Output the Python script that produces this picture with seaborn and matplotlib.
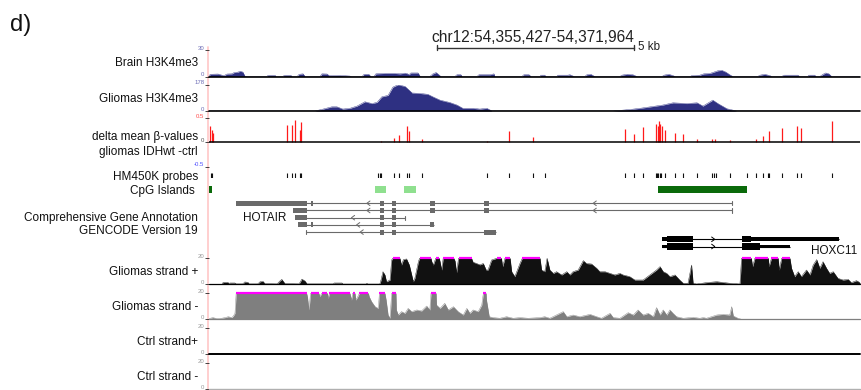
import numpy as np
import matplotlib
matplotlib.use("Agg")
import matplotlib.pyplot as plt
from matplotlib.lines import Line2D
import seaborn as sns

sns.set_theme(style="white")
plt.rcParams["font.family"] = ["Liberation Sans", "DejaVu Sans"]

# ------------------------------------------------------------------
# DATA  (all positions in kb from the window start chr12:54,355,427)
# ------------------------------------------------------------------
PANEL = "d)"
REGION = "chr12:54,355,427-54,371,964"
WINDOW_KB = 16.54
SCALE_KB = 5
SCALE_START_KB = 5.79

track_labels = ["Brain H3K4me3", "Gliomas H3K4me3", "delta mean \u03b2-values",
                "gliomas IDHwt -ctrl", "HM450K probes", "CpG Islands",
                "Comprehensive Gene Annotation", "GENCODE Version 19",
                "Gliomas strand +", "Gliomas strand -", "Ctrl strand+", "Ctrl strand -"]

brain_max = 30
brain_pos = [0.00, 0.03, 0.23, 0.33, 0.38, 0.46, 0.58, 0.64, 0.74, 0.79, 0.86, 0.91, 0.97,
             1.47, 1.50, 1.68, 1.70, 1.88, 1.91, 2.08, 2.11, 2.24, 2.29, 2.39, 2.44,
             2.82, 2.87, 3.00, 3.05, 3.33, 3.58, 3.61, 3.89, 3.94, 4.06, 4.11,
             4.19, 4.24, 4.47, 4.72, 4.85, 4.98, 5.05, 5.08, 5.13, 5.31, 5.36, 5.38,
             5.61, 5.69, 5.77, 5.84, 5.89, 6.25, 6.30, 6.40, 6.43,
             6.81, 6.86, 7.14, 7.24, 7.26, 7.95, 8.00, 8.13, 8.18, 8.41, 8.43, 8.53, 8.56,
             8.84, 8.86, 9.12, 9.17, 9.25, 9.27, 9.55, 9.60, 9.70, 9.80,
             10.44, 10.49, 10.62, 10.77, 10.87, 11.51, 11.56, 11.68, 11.79, 11.84,
             12.22, 12.27, 12.47, 12.57, 12.73, 12.83, 12.93, 13.03, 13.13, 13.23, 13.31,
             13.94, 14.00, 14.12, 14.25, 14.30, 14.55, 14.61, 14.96, 15.01,
             15.21, 15.24, 15.39, 15.42, 15.52, 15.60, 15.67, 15.75, 15.82, 16.54]
brain_val = [0, 2.5, 2.8, 1.5, 1.0, 2.8, 3.0, 4.5, 5.0, 6.0, 5.0, 0.5, 0,
             0, 1.3, 1.3, 0, 0, 1.3, 1.3, 0, 0, 2.5, 3.0, 0,
             0, 3.0, 2.8, 1.0, 1.2, 0.5, 0, 0, 2.5, 2.5, 0,
             0, 3.0, 3.5, 3.5, 3.0, 3.8, 3.0, 2.0, 4.0, 4.0, 0.5, 0,
             0, 3.0, 4.5, 2.0, 0, 0, 2.0, 2.0, 0,
             0, 2.0, 2.0, 3.0, 0, 0, 2.0, 2.0, 0, 0, 1.5, 1.5, 0,
             0, 1.5, 1.5, 2.0, 0.5, 0, 0, 2.0, 2.5, 0,
             0, 1.5, 2.5, 2.0, 0, 0, 1.5, 2.5, 1.0, 0,
             0, 1.0, 1.5, 3.0, 3.5, 5.0, 6.5, 7.0, 5.0, 2.0, 0,
             0, 1.5, 2.5, 1.0, 0, 0, 1.5, 1.5, 0,
             0, 1.5, 1.5, 0, 0, 2.5, 4.0, 3.0, 0, 0]

glioma_h3_max = 178
glioma_h3_pos = [0.00, 2.69, 2.90, 3.12, 3.25, 3.40, 3.58, 3.76, 3.96, 4.14, 4.27, 4.39, 4.55,
                 4.67, 4.80, 4.98, 5.16, 5.36, 5.56, 5.69, 5.87, 6.12, 6.30, 6.45, 6.71,
                 6.88, 7.06, 7.19, 10.26, 10.69, 10.95, 11.53, 11.79, 12.14, 12.40, 12.55,
                 12.80, 12.93, 13.16, 13.41, 16.54]
glioma_h3_val = [0, 0, 13, 28, 28, 13, 18, 33, 62, 50, 58, 95, 105,
                 160, 176, 165, 121, 118, 112, 95, 73, 57, 40, 18, 18,
                 13, 18, 0, 0, 10, 18, 40, 55, 50, 55, 33,
                 73, 50, 15, 0, 0]

delta_pos = [0.03, 0.07, 0.11, 1.99, 2.11, 2.18, 2.31, 2.34, 4.37, 4.71, 4.83, 5.04, 5.08,
             5.42, 7.07, 7.63, 8.22, 10.57, 10.80, 11.02, 11.35, 11.40, 11.44, 11.46, 11.50,
             11.58, 11.83, 12.04, 12.40, 12.79, 12.86, 13.23, 13.91, 14.08, 14.22, 14.56,
             14.93, 15.05, 15.84]
delta_val = [0.33, 0.25, 0.19, 0.35, 0.36, 0.45, 0.25, 0.41, 0.03, 0.08, 0.15, 0.33, 0.23,
             0.07, 0.03, 0.23, 0.11, 0.28, 0.17, 0.31, 0.38, 0.33, 0.43, 0.37, 0.33,
             0.25, 0.19, 0.17, 0.06, 0.06, 0.06, 0.05, 0.06, 0.13, 0.23, 0.30,
             0.33, 0.30, 0.43]

probe_pos = [0.04, 0.08, 1.99, 2.11, 2.18, 2.31, 2.34, 4.30, 4.34, 4.37, 4.71, 4.83, 5.04,
             5.08, 5.42, 7.07, 7.63, 8.22, 8.53, 10.57, 10.80, 11.02, 11.35, 11.39, 11.42,
             11.46, 11.49, 11.58, 11.83, 12.04, 12.40, 12.79, 12.83, 12.87, 13.23, 13.67,
             13.91, 14.08, 14.20, 14.22, 14.56, 14.93, 15.05, 15.84]

cpg_start = [0.01, 4.23, 4.95, 11.40]
cpg_end = [0.08, 4.50, 5.25, 13.68]
cpg_shade = ["dark", "light", "light", "dark"]

# HOTAIR transcripts (minus strand), rows 0-4
hotair_row = [0, 1, 2, 3, 4]
hotair_tx_start = [0.69, 2.13, 2.18, 2.27, 2.46]
hotair_tx_end = [13.28, 13.28, 4.98, 5.72, 7.29]
hotair_exon_start = [[0.69, 2.58, 4.34, 4.64, 5.61, 6.99],
                     [2.13, 4.34, 4.64, 5.61, 6.99],
                     [2.18, 4.34, 4.64],
                     [2.27, 2.58, 4.34, 4.64, 5.61],
                     [4.34, 4.64, 6.99]]
hotair_exon_end = [[2.48, 2.65, 4.45, 4.74, 5.74, 7.12],
                   [2.48, 4.45, 4.74, 5.74, 7.12],
                   [2.48, 4.45, 4.74],
                   [2.48, 2.65, 4.45, 4.74, 5.72],
                   [4.45, 4.74, 7.29]]
hotair_arrows = [[4.01, 9.76], [4.01, 9.76], [3.62], [3.75], [3.84]]
HOTAIR_LABEL_KB = 0.86

# HOXC11 transcripts (plus strand), rows 5-6
hoxc11_row = [5, 6]
hoxc11_tx_start = [11.50, 11.50]
hoxc11_tx_end = [16.01, 14.76]
hoxc11_cds_start = [[11.63, 13.53], [11.63, 13.53]]
hoxc11_cds_end = [[12.30, 13.78], [12.30, 14.00]]
hoxc11_utr_start = [[11.50, 13.78], [11.50, 14.00]]
hoxc11_utr_end = [[11.63, 16.01], [11.63, 14.76]]
hoxc11_arrows = [[12.85], [12.85]]
HOXC11_LABEL_KB = 15.29

strand_max = 20
plus_pos = [0.00, 0.33, 0.36, 0.48, 0.51, 0.53, 0.66, 0.69, 0.86, 0.91,
            0.99, 1.02, 1.24, 1.30, 1.37, 1.42, 1.73, 1.80, 1.85, 1.93,
            2.29, 2.36, 2.44, 2.49, 3.15, 3.18, 3.38, 3.40, 3.99, 4.01,
            4.04, 4.34, 4.37, 4.42, 4.47, 4.51, 4.60, 4.64, 4.67, 4.85,
            4.89, 4.94, 5.02, 5.09, 5.15, 5.19, 5.23, 5.32, 5.35, 5.64,
            5.66, 5.70, 5.76, 5.85, 5.87, 5.91, 5.95, 6.22, 6.25, 6.29,
            6.34, 6.67, 6.71, 6.80, 6.88, 6.97, 7.04, 7.09, 7.18, 7.31,
            7.43, 7.46, 7.52, 7.65, 7.69, 7.77, 7.90, 7.96, 8.41, 8.45,
            8.53, 8.59, 8.66, 8.75, 8.83, 8.96, 9.09, 9.17, 9.25, 9.38,
            9.51, 9.59, 9.72, 9.85, 9.93, 10.06, 10.19, 10.31, 10.44, 10.52,
            10.69, 10.82, 11.03, 11.20, 11.37, 11.46, 11.54, 11.63, 11.71, 11.84,
            11.96, 12.05, 12.17, 12.26, 12.30, 12.39, 12.64, 12.90, 13.23, 13.49,
            13.53, 13.78, 13.81, 13.87, 14.21, 14.23, 14.29, 14.46, 14.49, 14.55,
            14.76, 14.80, 14.88, 14.97, 15.05, 15.18, 15.27, 15.35, 15.44, 15.52,
            15.60, 15.69, 15.77, 15.86, 15.98, 16.11, 16.24, 16.32, 16.45, 16.54]
plus_val = [0, 0, 1.5, 1.5, 0.5, 1.0, 1.0, 0.3, 0.3, 1.8,
            1.5, 0.3, 0.3, 2.0, 2.3, 0.5, 0.3, 2.5, 3.8, 0.5,
            0.3, 4.0, 2.5, 0.3, 0.3, 1.0, 1.0, 0.2, 0.2, 0.8,
            0.2, 0.2, 3.3, 9.7, 7.2, 2.0, 3.3, 18.7, 25, 25,
            14.8, 19, 19.5, 14.8, 7.2, 2.0, 4.6, 17.4, 25, 25,
            17.4, 14.8, 25, 25, 17.4, 11, 25, 25, 18, 9,
            25, 25, 17, 16, 15, 16, 11, 11, 18.7, 25,
            25, 13.6, 25, 25, 9.7, 5.9, 16, 25, 25, 11,
            9.7, 20, 11, 8.4, 9.7, 7.2, 9.7, 7.2, 9.7, 11,
            18.2, 16, 15.6, 12.3, 9.7, 9.7, 8.4, 7.2, 8.4, 7.2,
            5.9, 3.3, 3.3, 7.2, 11, 13.6, 9.7, 8.4, 5.9, 7.2,
            3.3, 0.8, 0.8, 14.8, 0.8, 0.2, 1.3, 2.0, 0.8, 0.2,
            25, 25, 13.6, 25, 25, 13.6, 25, 25, 11, 25,
            25, 12.3, 5.9, 9.7, 5.9, 11, 7.2, 14.8, 19, 12.3,
            17.4, 12.3, 8.4, 9.7, 4.6, 3.3, 3.8, 1.3, 2.8, 1.3]

minus_pos = [0.00, 0.03, 0.10, 0.20, 0.32, 0.41, 0.49, 0.58, 0.62, 0.66,
             0.69, 2.48, 2.50, 2.54, 2.58, 2.79, 2.82, 2.86, 3.01, 3.03,
             3.06, 3.58, 3.62, 3.65, 3.71, 3.73, 3.78, 3.82, 4.05, 4.07,
             4.13, 4.22, 4.30, 4.33, 4.47, 4.50, 4.55, 4.60, 4.64, 4.75,
             4.76, 4.81, 4.89, 4.98, 5.06, 5.15, 5.28, 5.40, 5.53, 5.61,
             5.64, 5.77, 5.78, 5.87, 5.99, 6.08, 6.21, 6.33, 6.46, 6.55,
             6.63, 6.71, 6.84, 6.93, 6.97, 7.04, 7.05, 7.12, 7.22, 7.39,
             7.56, 7.73, 7.90, 8.11, 8.41, 8.53, 8.66, 9.00, 9.09, 9.25,
             9.42, 9.68, 9.85, 9.97, 10.19, 10.27, 10.44, 10.65, 10.78, 10.90,
             11.03, 11.16, 11.29, 11.37, 11.46, 11.54, 11.63, 11.71, 11.79, 11.88,
             12.05, 12.30, 12.47, 12.56, 12.64, 12.90, 13.06, 13.23, 13.28, 13.32,
             13.44, 13.53, 16.54]
minus_val = [0.5, 0.8, 1.3, 0.5, 0.8, 1.3, 2.0, 1.3, 2.6, 4.6,
             25, 25, 17.4, 7.2, 25, 25, 17.4, 25, 25, 16.1,
             25, 25, 14.8, 25, 25, 14.8, 17.4, 25, 25, 17.4,
             13.6, 9.7, 8.4, 25, 25, 14.8, 3.3, 0.8, 25, 25,
             7.2, 3.3, 5.9, 4.6, 8.4, 5.9, 7.2, 6.4, 10.2, 7.2,
             25, 25, 11, 8.4, 12.3, 7.2, 9.7, 5.9, 3.3, 8.4,
             4.6, 7.2, 5.9, 11, 25, 25, 14.8, 2.0, 1.3, 0.8,
             2.0, 0.8, 1.3, 0.8, 1.3, 2.0, 0.8, 5.9, 2.0, 3.3,
             2.0, 3.8, 2.0, 0.8, 4.6, 1.3, 0.8, 5.1, 3.3, 7.2,
             3.3, 4.6, 2.0, 9.0, 3.3, 7.2, 3.3, 7.2, 4.6, 2.0,
             0.8, 1.5, 0.8, 1.3, 0.8, 3.3, 3.8, 3.3, 9.7, 2.6,
             0.8, 0, 0]

# ------------------------------------------------------------------
# LAYOUT / STYLE
# ------------------------------------------------------------------
W, H = 861, 390
X0, X1 = 209, 860
fig = plt.figure(figsize=(W / 100, H / 100), dpi=100)

NAVY = "#2e3082"
GRAY_TX = "#6a6a6a"
MAGENTA = "#ff00ff"
LAB_FS = 8.45
TICK_FS = 4.3


def add_ax(top, bottom):
    ax = fig.add_axes([X0 / W, 1 - bottom / H, (X1 - X0) / W, (bottom - top) / H])
    ax.patch.set_visible(False)
    for s in ax.spines.values():
        s.set_visible(False)
    ax.set_xlim(0, WINDOW_KB)
    ax.set_xticks([])
    ax.set_yticks([])
    ax.grid(False)
    return ax


def yticks(ax, ticks, labels, colors):
    ax.set_yticks(ticks)
    ax.set_yticklabels(labels)
    ax.tick_params(axis="y", left=True, length=2.6, width=0.6, pad=0.8, labelsize=TICK_FS)
    for t, lab, c in zip(ax.yaxis.get_major_ticks(), ax.get_yticklabels(), colors):
        t.tick1line.set_color(c)
        lab.set_color(c)
        lab.set_va("baseline")


def signal(top, bottom, pos, val, ymax, color, base_color, base_lw, tcol, saturate=False):
    ax = add_ax(top, bottom)
    ax.set_ylim(0, ymax)
    if pos is not None:
        pos = np.asarray(pos, float)
        val = np.asarray(val, float)
        clipped = np.minimum(val, ymax)
        ax.fill_between(pos, 0, clipped, color=color, lw=0)
        sns.lineplot(x=pos, y=clipped, ax=ax, color=color, lw=0.3,
                     estimator=None, sort=False, legend=False)
        if saturate:
            sat = np.where(val > ymax, ymax, np.nan)
            ax.plot(pos, sat, color=MAGENTA, lw=1.6, clip_on=False,
                    solid_capstyle="butt", zorder=5)
    ax.axhline(0, color=base_color, lw=base_lw, clip_on=False, zorder=6)
    ax.set_xlabel("")
    ax.set_ylabel("")
    yticks(ax, [0, ymax], ["0", str(ymax)], [tcol, tcol])
    return ax


# panel letter, region, scale bar
fig.text(10 / W, 1 - 25 / H, PANEL, fontsize=17, ha="left", va="center", color="#111111")
ruler = add_ax(30, 52)
ruler.set_ylim(0, 1)
ruler.plot([SCALE_START_KB, SCALE_START_KB + SCALE_KB], [0.195, 0.195], color="#333333", lw=1.0)
for xe in (SCALE_START_KB, SCALE_START_KB + SCALE_KB):
    ruler.plot([xe, xe], [0.09, 0.32], color="#333333", lw=1.0)
ruler.text(SCALE_START_KB - 0.13, 0.64, REGION, fontsize=11.2, ha="left", va="center", color="#222222")
ruler.text(SCALE_START_KB + SCALE_KB + 0.11, 0.22, f"{SCALE_KB} kb", fontsize=8.4,
           ha="left", va="center", color="#222222")

# pink left guide line
fig.add_artist(Line2D([208 / W, 208 / W], [1 - 47 / H, 0], color="#ffcccc", lw=1.3,
                      transform=fig.transFigure, zorder=-1))

# H3K4me3 tracks
signal(50, 76.5, brain_pos, brain_val, brain_max, NAVY, "black", 1.2, "#6b6bb5")
signal(84.5, 111, glioma_h3_pos, glioma_h3_val, glioma_h3_max, NAVY, "black", 1.2, "#6b6bb5")

# delta beta
axd = add_ax(118, 166.5)
axd.set_ylim(-0.5, 0.5)
axd.vlines(delta_pos, 0, delta_val, color="#ff1a1a", lw=0.9)
axd.axhline(0, color="black", lw=1.1, zorder=5)
yticks(axd, [-0.5, 0, 0.5], ["-0.5", "0", "0.5"], ["#4d4dff", "#555555", "#ff4d4d"])

# probes
axp = add_ax(173, 178.5)
axp.set_ylim(0, 1)
axp.vlines(probe_pos, 0, 1, color="#111111", lw=0.8)

# CpG islands
axc = add_ax(186, 193)
axc.set_ylim(0, 1)
shade_col = {"dark": "#0a6a0a", "light": "#8fe08f"}
axc.barh([0.5] * len(cpg_start), np.subtract(cpg_end, cpg_start), left=cpg_start,
         height=1.0, color=[shade_col[s] for s in cpg_shade], lw=0)

# gene annotation
axg = add_ax(199.7, 250.1)
axg.set_ylim(6.5, -0.5)


def chevron(ax, x, row, direction, color):
    dx, dy = 0.08 * direction, 0.32
    ax.plot([x + dx, x, x + dx], [row - dy, row, row + dy], color=color, lw=0.7)


for i, row in enumerate(hotair_row):
    s, e = hotair_tx_start[i], hotair_tx_end[i]
    axg.plot([s, e], [row, row], color=GRAY_TX, lw=0.8, solid_capstyle="butt")
    es, ee = hotair_exon_start[i], hotair_exon_end[i]
    axg.barh([row] * len(es), np.subtract(ee, es), left=es, height=0.7, color=GRAY_TX, lw=0)
    if s < min(es) - 0.01:
        axg.plot([s, s], [row - 0.3, row + 0.3], color=GRAY_TX, lw=0.8)
    if e > max(ee) + 0.01:
        axg.plot([e, e], [row - 0.3, row + 0.3], color=GRAY_TX, lw=0.8)
    for a in hotair_arrows[i]:
        chevron(axg, a, row, +1, GRAY_TX)

for i, row in enumerate(hoxc11_row):
    s, e = hoxc11_tx_start[i], hoxc11_tx_end[i]
    axg.plot([s, e], [row, row], color="black", lw=0.8, solid_capstyle="butt")
    cs, ce = hoxc11_cds_start[i], hoxc11_cds_end[i]
    us, ue = hoxc11_utr_start[i], hoxc11_utr_end[i]
    axg.barh([row] * len(cs), np.subtract(ce, cs), left=cs, height=0.85, color="black", lw=0)
    axg.barh([row] * len(us), np.subtract(ue, us), left=us, height=0.55, color="black", lw=0)
    for a in hoxc11_arrows[i]:
        chevron(axg, a, row, -1, "black")

axg.text(HOTAIR_LABEL_KB, 2.1, "HOTAIR", fontsize=LAB_FS, ha="left", va="center", color="#111111")
axg.text(HOXC11_LABEL_KB, 6.6, "HOXC11", fontsize=LAB_FS, ha="left", va="center",
         color="#111111", clip_on=False)

# RNA strand tracks
signal(258.3, 284.3, plus_pos, plus_val, strand_max, "#111111", "black", 0.9, "#9a9a9a", saturate=True)
signal(293.3, 319.3, minus_pos, minus_val, strand_max, "#7f7f7f", "#7f7f7f", 0.9, "#9a9a9a", saturate=True)
signal(328, 354, None, None, strand_max, "black", "black", 1.4, "#9a9a9a")
signal(363, 389, None, None, strand_max, "black", "#b0b0b0", 1.0, "#9a9a9a")

# track labels
label_y = [62, 98.3, 136.7, 151.7, 176.7, 190, 217.3, 230.7, 271.7, 306.7, 341.7, 376.7]
label_x = [198, 198, 198, 198, 198, 194.5, 198, 198, 198, 198, 198, 198]
for txt, lx, ly in zip(track_labels, label_x, label_y):
    fig.text(lx / W, 1 - (ly + 0.6) / H, txt, fontsize=LAB_FS, ha="right", va="center", color="#111111")

fig.savefig("out.png", dpi=100)
